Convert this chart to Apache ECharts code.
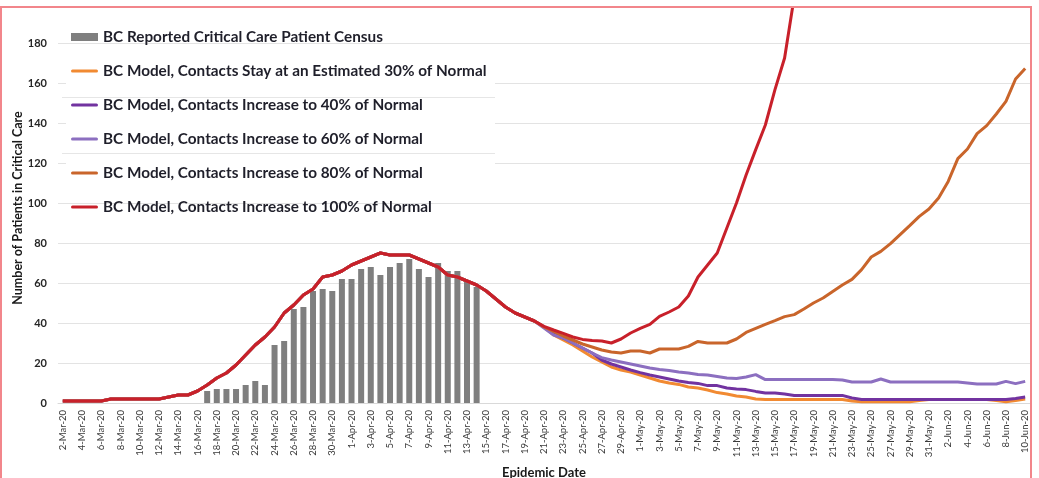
<!DOCTYPE html>
<html>
<head>
<meta charset="utf-8">
<script src="https://cdn.jsdelivr.net/npm/echarts@6/dist/echarts.min.js"></script>
<style>
    html, body { margin: 0; padding: 0; background: #fff; }
    #chart { width: 1039px; height: 478px; }
</style>
</head>
<body>
<div id="chart"></div>
<script>
// date categories, 2-Mar-20 .. 10-Jun-20
const monthSpans = [['Mar', 2, 31], ['Apr', 1, 30], ['May', 1, 31], ['Jun', 1, 10]]
const dates = []
monthSpans.forEach(([m, from, to]) => {
    for (let d = from; d <= to; d++) dates.push(d + '-' + m + '-20')
})

// reported census (17-Mar .. 14-Apr)
const censusStart = 15
const census = [6, 7, 7, 7, 9, 11, 9, 29, 31, 47, 48, 56, 57, 56, 62, 62, 67, 68, 64, 68, 70, 72, 67, 63, 70, 66, 66, 61, 58]

// all model runs share the same curve up to 20-Apr
const sharedStart = [
    1, 1, 1, 1, 1, 2, 2, 2, 2, 2,
    2, 3, 4, 4, 6, 9, 12.5, 15, 19, 24,
    29, 33, 38, 45, 49, 54, 57, 63, 64, 66,
    69, 71, 73, 75, 74, 74, 74, 72, 70, 68,
    64, 63, 61, 59, 56, 52, 48, 45, 43, 41
]

// from 21-Apr on
const tail30 = [
    38, 34, 31.5, 29, 26, 23, 20.5, 18, 16.5, 15.5,
    14, 12.5, 11, 10, 9.3, 8, 7.5, 6.5, 5.2, 4.5,
    3.5, 3, 2, 1.7, 1.7, 1.7, 1.7, 1.7, 1.7, 1.7,
    1.7, 1.7, 1, 0.6, 0.6, 0.6, 0.6, 0.6, 0.6, 1.3,
    1.7, 1.7, 1.7, 1.7, 1.7, 1.7, 1.7, 1.2, 0.6, 1.2, 2
]
const tail40 = [
    38, 34.5, 32.5, 30, 27.5, 25, 21.5, 19.5, 18, 16.5,
    15.2, 14, 13, 12, 11, 10.3, 9.8, 8.7, 8.7, 7.5,
    7, 6.7, 5.8, 5, 5, 4.5, 3.8, 3.8, 3.8, 3.8,
    3.8, 3.8, 2.5, 1.7, 1.7, 1.7, 1.7, 1.7, 1.7, 1.7,
    1.7, 1.7, 1.7, 1.7, 1.7, 1.7, 1.7, 1.7, 1.7, 2.2, 3
]
const tail60 = [
    37.5, 34, 32.5, 30, 27.5, 25, 22.7, 21.5, 20.5, 19.5,
    18.5, 17.5, 16.7, 16.2, 15.5, 15, 14.2, 14, 13.3, 12.5,
    12.3, 13, 14.2, 11.7, 11.7, 11.7, 11.7, 11.7, 11.7, 11.7,
    11.7, 11.5, 10.5, 10.5, 10.5, 12, 10.5, 10.5, 10.5, 10.5,
    10.5, 10.5, 10.5, 10.5, 10, 9.5, 9.5, 9.5, 10.8, 9.7, 10.8
]
const tail80 = [
    38, 35.8, 33.5, 31.5, 29.5, 28, 26.5, 25.5, 25, 26,
    26, 25, 27, 27, 27, 28.3, 30.8, 30, 30, 30,
    32, 35.3, 37.3, 39.3, 41.2, 43.2, 44.2, 47, 50, 52.5,
    55.8, 59, 61.8, 66.7, 73, 75.8, 79.7, 84.2, 88.7, 93.3,
    97, 102.5, 110.8, 122.2, 127, 134.7, 138.7, 144.5, 150.8, 162, 167.3
]
const tail100 = [
    38.3, 36.5, 34.8, 33, 31.8, 31.2, 31, 30, 32, 35,
    37.3, 39.3, 43.3, 45.5, 48, 53.5, 63, 69, 75, 87.5,
    100, 114, 126.7, 139, 156.7, 172.5, 203
]

const yTicks = { min: 0, max: 180, step: 20 }

const names = [
    'BC Reported Critical Care Patient Census',
    'BC Model, Contacts Stay at an Estimated 30% of Normal',
    'BC Model, Contacts Increase to 40% of Normal',
    'BC Model, Contacts Increase to 60% of Normal',
    'BC Model, Contacts Increase to 80% of Normal',
    'BC Model, Contacts Increase to 100% of Normal'
]
const colors = ['#7f7f7f', '#f18a32', '#7233a0', '#8c6fc0', '#c9652b', '#c8202a']

const censusData = dates.map((d, i) => {
    const k = i - censusStart
    return k >= 0 && k < census.length ? census[k] : null
})
const lineData = [tail30, tail40, tail60, tail80, tail100].map(t => sharedStart.concat(t))

const font = 'Lato'
// thin line icon for the legend (box 27 x 8, stroke in the middle)
const lineIcon = 'path://M0,0M1.5,2.5L25.5,2.5A1.5,1.5,0,0,1,25.5,5.5L1.5,5.5A1.5,1.5,0,0,1,1.5,2.5ZM27,8'

function lineSeries(idx, data, extra) {
    return Object.assign({
        name: names[idx],
        type: 'line',
        data: data,
        symbol: 'none',
        color: colors[idx],
        lineStyle: { width: 3, color: colors[idx] }
    }, extra || {})
}

const option = {
    animation: false,
    backgroundColor: '#fff',
    textStyle: { fontFamily: font },
    grid: { left: 58, right: 9, top: 43, bottom: 75, outerBoundsMode: 'none', containLabel: false },
    graphic: [
        { type: 'rect', z: 1, shape: { x: 66, y: 50, width: 429, height: 146 }, style: { fill: '#fff' } },
        { type: 'line', z: 1, shape: { x1: 62, y1: 97.5, x2: 495, y2: 97.5 }, style: { stroke: '#e6e6e6', lineWidth: 1 } },
        { type: 'line', z: 1, shape: { x1: 62, y1: 153.5, x2: 495, y2: 153.5 }, style: { stroke: '#e6e6e6', lineWidth: 1 } },
        { type: 'rect', z: 99, shape: { x: 0, y: 0, width: 1039, height: 6 }, style: { fill: '#fff' } },
        { type: 'rect', z: 100, shape: { x: 1, y: 7, width: 1030, height: 520 }, style: { fill: 'none', stroke: '#f2868b', lineWidth: 2 } }
    ],
    legend: {
        orient: 'vertical',
        left: 71,
        top: 29,
        padding: 0,
        itemGap: 18,
        itemWidth: 27,
        itemHeight: 8,
        z: 5,
        textStyle: { fontFamily: font, fontWeight: 'bold', fontSize: 15.3, lineHeight: 16, color: '#1f1f2a' },
        data: names.map((n, i) => ({ name: n, icon: i === 0 ? 'rect' : lineIcon }))
    },
    xAxis: {
        type: 'category',
        data: dates,
        name: 'Epidemic Date',
        nameLocation: 'middle',
        nameGap: 63,
        nameMoveOverlap: false,
        nameTextStyle: { fontFamily: font, fontWeight: 'bold', fontSize: 13, color: '#1a1a1a' },
        axisTick: { show: false },
        axisLine: { lineStyle: { color: '#d9d9d9' } },
        axisLabel: { rotate: 90, interval: 1, fontSize: 9.5, color: '#3a3a3a', margin: 7 }
    },
    yAxis: {
        type: 'value',
        min: yTicks.min,
        max: yTicks.max,
        interval: yTicks.step,
        name: 'Number of Patients in Critical Care',
        nameLocation: 'middle',
        nameGap: 34,
        nameMoveOverlap: false,
        nameTextStyle: { fontFamily: font, fontWeight: 'bold', fontSize: 12.5, color: '#1a1a1a', padding: [0, 0, 0, 30] },
        axisLine: { show: false },
        axisTick: { show: false },
        axisLabel: { fontSize: 11, fontWeight: 'bold', color: '#262626', margin: 11 },
        splitLine: { lineStyle: { color: '#e3e3e3' } }
    },
    series: [
        {
            name: names[0],
            type: 'bar',
            data: censusData,
            barWidth: 6,
            color: colors[0],
            itemStyle: { color: colors[0] }
        },
        lineSeries(1, lineData[0]),
        lineSeries(2, lineData[1]),
        lineSeries(3, lineData[2]),
        lineSeries(4, lineData[3]),
        lineSeries(5, lineData[4], { clip: false })
    ]
}

const myChart = echarts.init(document.getElementById('chart'))
myChart.setOption(option)
</script>
</body>
</html>
